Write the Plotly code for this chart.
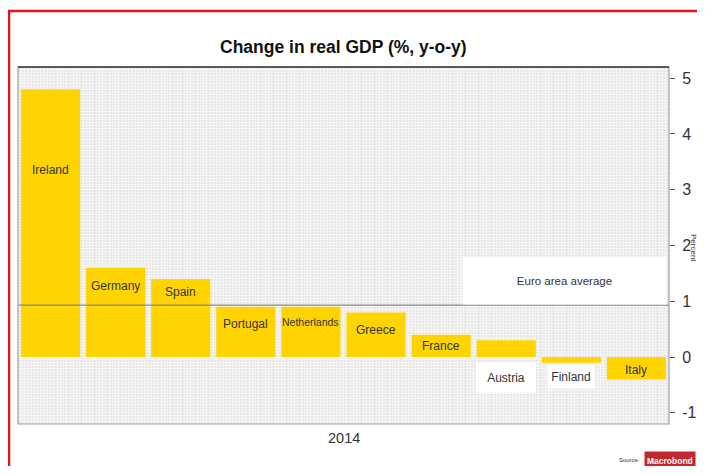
import plotly.graph_objects as go

countries = ["Ireland", "Germany", "Spain", "Portugal", "Netherlands", "Greece",
             "France", "Austria", "Finland", "Italy"]
gdp_growth = [4.8, 1.6, 1.4, 0.9, 0.9, 0.8, 0.4, 0.3, -0.1, -0.4]
label_y = [3.35, 1.27, 1.16, 0.6, 0.63, 0.48, 0.2, -0.37, -0.35, -0.23]
boxed_labels = {"Austria": (54, 25), "Finland": (42, 19)}
euro_avg = 0.93
euro_label_y = 1.36
y_ticks = [-1, 0, 1, 2, 3, 4, 5]
y_tick_text = [str(v) for v in y_ticks]

# the page body has an 8px margin on every side; size the figure so the page
# exactly fills the 705x474 window, and place items in window coordinates
OFF = 8
W, H = 705 - 2 * OFF, 474 - 2 * OFF
ML, MT = 18 - OFF, 67 - OFF
MR, MB = W - (669 - OFF), H - (424 - OFF)
PW, PH = W - ML - MR, H - MT - MB


def px(x):  # window pixel x -> paper x
    return (x - OFF - ML) / PW


def py(y):  # window pixel y -> paper y
    return 1 - (y - OFF - MT) / PH


FONT = "Liberation Sans, Arial, sans-serif"
YEL = "#FFD400"

fig = go.Figure()
fig.add_trace(go.Bar(x=countries, y=gdp_growth, marker=dict(color=YEL, line=dict(width=0)),
                     hoverinfo="x+y", showlegend=False))
# invisible trace on an overlay axis, used only for the fine vertical texture grid
fig.add_trace(go.Scatter(x=[0], y=[0], xaxis="x2", mode="markers",
                         marker=dict(opacity=0), hoverinfo="skip", showlegend=False))

fig.add_shape(type="line", xref="paper", yref="y", x0=0, x1=1, y0=euro_avg, y1=euro_avg,
              line=dict(color="#8a8a8a", width=1.2))

annotations = []
for c, ly in zip(countries, label_y):
    if c in boxed_labels:
        bw, bh = boxed_labels[c]
        annotations.append(dict(x=c, y=ly, xref="x", yref="y", text=c, showarrow=False,
                                font=dict(family=FONT, size=12, color="#333"),
                                bgcolor="white", width=bw, height=bh, borderpad=2))
    else:
        annotations.append(dict(x=c, y=ly, xref="x", yref="y", text=c, showarrow=False,
                                font=dict(family=FONT,
                                          size=12 if c != "Netherlands" else 10.5,
                                          color="#333")))

annotations += [
    dict(x=px(564.5), y=euro_label_y, xref="paper", yref="y", xanchor="center",
         text="Euro area average", showarrow=False,
         font=dict(family=FONT, size=11.5, color="#333"), bgcolor="white",
         width=199, height=42, borderpad=2),
    dict(x=0.5, y=py(47), xref="paper", yref="paper", xanchor="center", yanchor="middle",
         text="<b>Change in real GDP (%, y-o-y)</b>", showarrow=False,
         font=dict(family=FONT, size=17.5, color="#111")),
    dict(x=px(344), y=py(438), xref="paper", yref="paper", xanchor="center",
         yanchor="middle", text="2014", showarrow=False,
         font=dict(family=FONT, size=14.5, color="#333")),
    dict(x=px(694), y=py(248), xref="paper", yref="paper", xanchor="center",
         yanchor="middle", text="Percent", textangle=90, showarrow=False,
         font=dict(family=FONT, size=8, color="#333")),
    dict(x=px(642), y=py(460), xref="paper", yref="paper", xanchor="right",
         yanchor="middle", text="Source:", showarrow=False,
         font=dict(family=FONT, size=6, color="#333")),
    dict(x=px(670), y=py(460.5), xref="paper", yref="paper", xanchor="center",
         yanchor="middle", text="<b>Macrobond</b>", showarrow=False,
         font=dict(family=FONT, size=8.5, color="white"), bgcolor="#c4262e",
         height=13, borderpad=2),
]

shapes = [
    dict(type="rect", xref="paper", yref="paper", x0=0, x1=1, y0=0, y1=1,
         line=dict(color="#a0a0a0", width=1.2), layer="above"),
    dict(type="line", xref="paper", yref="paper", x0=0, x1=1, y0=1, y1=1,
         line=dict(color="#333", width=1.5), layer="above"),
    # red outer border (left and top)
    dict(type="line", xref="paper", yref="paper", x0=px(9), x1=px(9),
         y0=py(480), y1=py(11), line=dict(color="#e3141c", width=2.5)),
    dict(type="line", xref="paper", yref="paper", x0=px(8), x1=px(720),
         y0=py(11), y1=py(11), line=dict(color="#e3141c", width=2.5)),
]

fig.update_layout(
    width=W, height=H,
    margin=dict(l=ML, r=MR, t=MT, b=MB, pad=0, autoexpand=False),
    paper_bgcolor="white", plot_bgcolor="#e8e8e8",
    bargap=0.09,
    annotations=annotations,
    shapes=list(fig.layout.shapes) + shapes,
    font=dict(family=FONT, color="#333"),
    xaxis=dict(showticklabels=False, showgrid=False, zeroline=False, ticks="",
               fixedrange=True, automargin=False),
    xaxis2=dict(overlaying="x", range=[0, 1], showgrid=True, dtick=0.005,
                gridcolor="#f6f6f6", gridwidth=1, showticklabels=False, ticks="",
                zeroline=False, showline=False, fixedrange=True, automargin=False),
    yaxis=dict(side="right", range=[-1.2, 5.2], tickvals=y_ticks, ticktext=y_tick_text,
               showgrid=False, zeroline=False, ticks="outside", ticklen=5,
               tickcolor="#555", tickfont=dict(family=FONT, size=16, color="#333"),
               ticklabelstandoff=4, automargin=False,
               minor=dict(tickmode="linear", tick0=0, dtick=0.05, showgrid=True,
                          gridcolor="#f6f6f6", gridwidth=1, ticks=""),
               fixedrange=True),
)

fig.write_html("out.html")
